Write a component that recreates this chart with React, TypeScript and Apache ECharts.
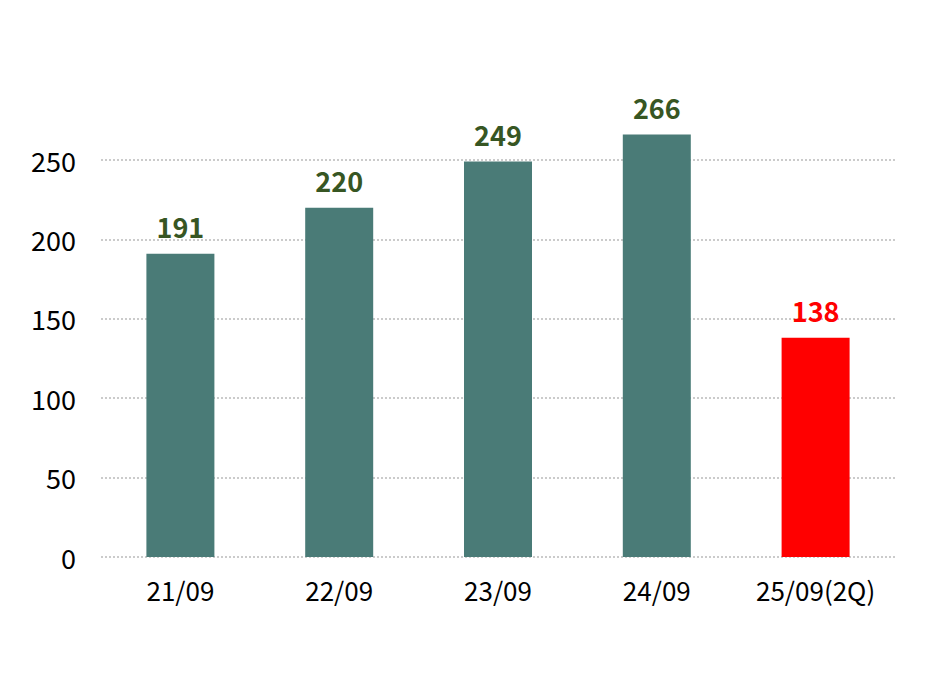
import React, { useEffect, useRef } from "react";
import * as echarts from "echarts";

const categories = ["21/09", "22/09", "23/09", "24/09", "25/09(2Q)"];
const values = [191, 220, 249, 266, 138];
const barColors = ["#4A7B77", "#4A7B77", "#4A7B77", "#4A7B77", "#FF0000"];
const labelColors = ["#375623", "#375623", "#375623", "#375623", "#FF0000"];

const FONT = "'Noto Sans CJK JP', 'Noto Sans', sans-serif";

export default function App() {
  const ref = useRef<HTMLDivElement>(null);
  useEffect(() => {
    const chart = echarts.init(ref.current!, null, { renderer: "svg" });
    chart.setOption({
      animation: false,
      grid: { left: 101, right: 39, top: 80.6, bottom: 131, containLabel: false },
      xAxis: {
        type: "category",
        data: categories,
        axisLine: { show: false },
        axisTick: { show: false },
        axisLabel: { color: "#000", fontSize: 26, fontFamily: FONT, margin: 19, interval: 0 },
      },
      yAxis: {
        type: "value",
        min: 0,
        max: 300,
        interval: 50,
        axisLine: { show: false },
        axisTick: { show: false },
        axisLabel: { color: "#000", fontSize: 27, fontFamily: FONT, margin: 25, showMaxLabel: false },
        splitLine: {
          show: true,
          showMaxLine: false,
          lineStyle: { color: "#BBBBBB", type: [2, 2], width: 1.5 },
        },
      },
      series: [
        {
          type: "bar",
          barWidth: 68,
          data: values.map((v, i) => ({
            value: v,
            itemStyle: { color: barColors[i] },
            label: { color: labelColors[i] },
          })),
          label: {
            show: true,
            position: "top",
            distance: 14,
            fontSize: 27,
            fontWeight: "bold",
            fontFamily: FONT,
          },
        },
      ],
    });
    return () => chart.dispose();
  }, []);
  return <div ref={ref} style={{ width: 934, height: 688, position: "absolute", left: 0, top: 0 }} />;
}
